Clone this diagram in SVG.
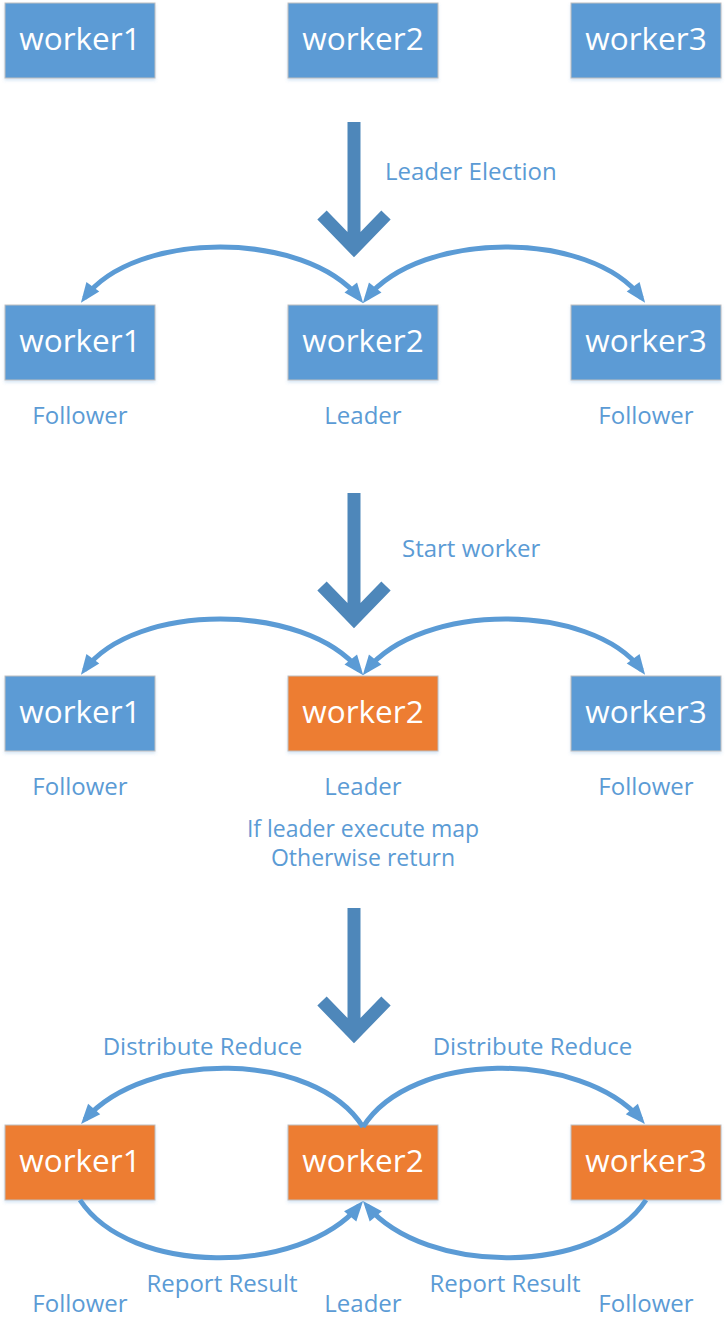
<svg xmlns="http://www.w3.org/2000/svg" width="727" height="1331" viewBox="0 0 727 1331">
<defs>
<style>
.box{stroke:#BFBFBF;stroke-width:1;filter:url(#sh)}
.blue{fill:#5B9BD5}
.orange{fill:#ED7D31}
.bt{font-family:"Segoe UI","Open Sans","Noto Sans",sans-serif;font-size:31.5px;fill:#FFFFFF;text-anchor:middle}
.lb{font-family:"Segoe UI","Open Sans","Noto Sans",sans-serif;font-size:24px;fill:#5B9BD5}
.sm{font-size:23px}
.mid{text-anchor:middle}
.big{stroke:#4E87BA;stroke-width:13;fill:none;stroke-linejoin:miter;stroke-miterlimit:4}
.cv{stroke:#5B9BD5;stroke-width:5;fill:none}
.two{marker-start:url(#ah);marker-end:url(#ah)}
.one{marker-end:url(#ah)}
</style>
<marker id="ah" markerUnits="userSpaceOnUse" markerWidth="20" markerHeight="16" refX="14" refY="8" orient="auto-start-reverse" overflow="visible">
<path d="M0,0 L20,8 L0,16 Z" fill="#5B9BD5"/>
</marker>
<filter id="sh" x="-10%" y="-10%" width="130%" height="140%">
<feDropShadow dx="0" dy="2" stdDeviation="1.5" flood-color="#5B9BD5" flood-opacity="0.25"/>
</filter>
</defs>

<g id="r1-worker1"><rect class="box blue" x="5" y="3" width="150" height="75"/><text class="bt" x="80" y="50">worker1</text></g>
<g id="r1-worker2"><rect class="box blue" x="288" y="3" width="150" height="75"/><text class="bt" x="363" y="50">worker2</text></g>
<g id="r1-worker3"><rect class="box blue" x="571" y="3" width="150" height="75"/><text class="bt" x="646" y="50">worker3</text></g>

<g id="r2-worker1"><rect class="box blue" x="5" y="305" width="150" height="75"/><text class="bt" x="80" y="352">worker1</text><text class="lb mid" x="80" y="424">Follower</text></g>
<g id="r2-worker2"><rect class="box blue" x="288" y="305" width="150" height="75"/><text class="bt" x="363" y="352">worker2</text><text class="lb mid" x="363" y="424">Leader</text></g>
<g id="r2-worker3"><rect class="box blue" x="571" y="305" width="150" height="75"/><text class="bt" x="646" y="352">worker3</text><text class="lb mid" x="646" y="424">Follower</text></g>

<g id="r3-worker1"><rect class="box blue" x="5" y="676" width="150" height="75"/><text class="bt" x="80" y="723">worker1</text><text class="lb mid" x="80" y="795">Follower</text></g>
<g id="r3-worker2"><rect class="box orange" x="288" y="676" width="150" height="75"/><text class="bt" x="363" y="723">worker2</text><text class="lb mid" x="363" y="795">Leader</text><text class="lb sm mid" x="363" y="837">If leader execute map</text><text class="lb sm mid" x="363" y="866">Otherwise return</text></g>
<g id="r3-worker3"><rect class="box blue" x="571" y="676" width="150" height="75"/><text class="bt" x="646" y="723">worker3</text><text class="lb mid" x="646" y="795">Follower</text></g>

<g id="r4-worker1"><rect class="box orange" x="5" y="1125" width="150" height="75"/><text class="bt" x="80" y="1172">worker1</text><text class="lb mid" x="80" y="1312">Follower</text></g>
<g id="r4-worker2"><rect class="box orange" x="288" y="1125" width="150" height="75"/><text class="bt" x="363" y="1172">worker2</text><text class="lb mid" x="363" y="1312">Leader</text></g>
<g id="r4-worker3"><rect class="box orange" x="571" y="1125" width="150" height="75"/><text class="bt" x="646" y="1172">worker3</text><text class="lb mid" x="646" y="1312">Follower</text></g>

<g id="connectors">
<path class="big" d="M354,122 V246 M322,215 L354,248 L386,215"/>
<text class="lb" x="385" y="180">Leader Election</text>
<path class="big" d="M354,493 V617 M322,586 L354,619 L386,586"/>
<text class="lb" x="402" y="557">Start worker</text>
<path class="big" d="M354,908 V1032 M322,1001 L354,1034 L386,1001"/>

<path class="cv two" d="M84.5,298 C135,230 305,230 359.5,298.5"/>
<path class="cv two" d="M366.5,298.5 C421,230 591,230 641.5,298"/>
<path class="cv two" d="M84.5,670 C135,602 305,602 359.5,670.5"/>
<path class="cv two" d="M366.5,670.5 C421,602 591,602 641.5,670"/>

<path class="cv one" d="M363,1127 C315,1050 145,1050 85,1119.5"/>
<path class="cv one" d="M363,1127 C411,1050 581,1050 641,1119.5"/>
<text class="lb mid" x="202.5" y="1055">Distribute Reduce</text>
<text class="lb mid" x="532.5" y="1055">Distribute Reduce</text>

<path class="cv one" d="M80,1200 C130,1276 300,1276 359.2,1205.6"/>
<path class="cv one" d="M646,1200 C596,1276 426,1276 366.8,1205.6"/>
<text class="lb mid" x="222" y="1292">Report Result</text>
<text class="lb mid" x="505" y="1292">Report Result</text>
</g>
</svg>
